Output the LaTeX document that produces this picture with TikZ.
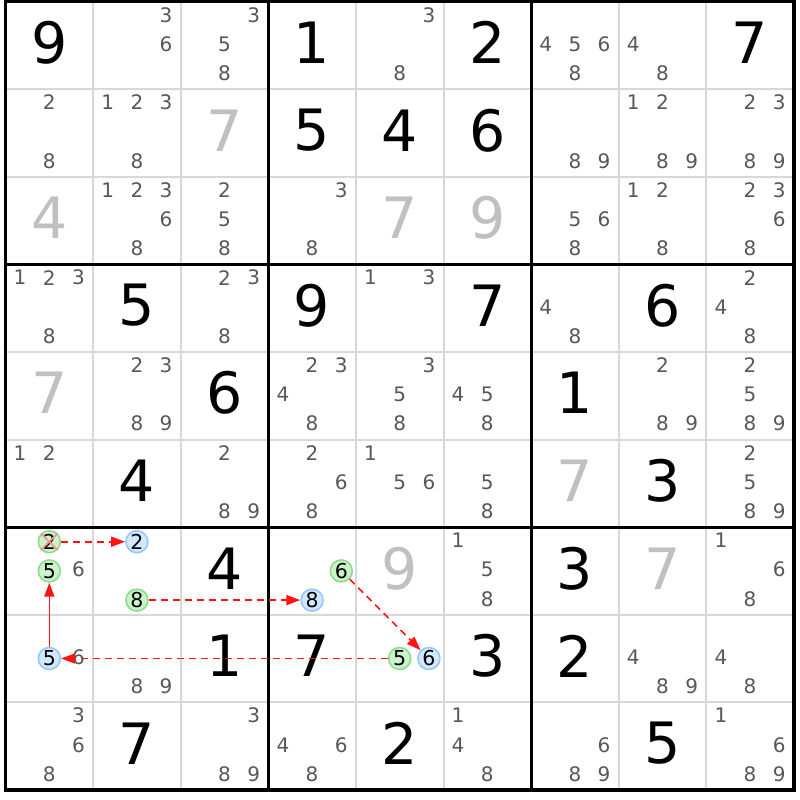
\documentclass[tikz,border=0pt]{standalone}
\usepackage{fontspec}
\setmainfont{DejaVu Sans}
\usetikzlibrary{arrows.meta}
\definecolor{candgrey}{RGB}{88,88,88}
\definecolor{solvedgrey}{RGB}{192,192,192}
\definecolor{thingrid}{RGB}{216,216,216}
\definecolor{gfill}{RGB}{204,242,204}
\definecolor{gline}{RGB}{140,220,140}
\definecolor{bfill}{RGB}{210,232,255}
\definecolor{bline}{RGB}{150,200,250}
\definecolor{linkred}{RGB}{255,20,20}
\tikzset{
  given/.style={font=\fontsize{57}{60}\selectfont, text=black, inner sep=0pt},
  solved/.style={font=\fontsize{57}{60}\selectfont, text=solvedgrey, inner sep=0pt},
  cand/.style={font=\fontsize{20}{24}\selectfont, text=candgrey, inner sep=0pt},
  ringg/.style={circle, draw=gline, fill=gfill, line width=1.6pt, minimum size=22pt, inner sep=0pt, font=\fontsize{20.5}{24}\selectfont, text=black},
  ringb/.style={circle, draw=bline, fill=bfill, line width=1.6pt, minimum size=22pt, inner sep=0pt, font=\fontsize{20.5}{24}\selectfont, text=black},
  thinline/.style={draw=thingrid, line width=2pt},
  boxline/.style={draw=black, line width=3pt},
  linkarrow/.style={draw=linkred, line width=1.6pt, -{Triangle[length=14pt,width=10pt]}},
  linkdash/.style={linkarrow, dash pattern=on 7pt off 5pt},
}
\newcommand\Cd[3]{%
  \foreach \d in {#3}{%
    \pgfmathtruncatemacro\mycc{mod(\d-1,3)}%
    \pgfmathtruncatemacro\myrr{floor((\d-1)/3)}%
    \node[cand] (c#1#2-\d) at ({5.5+#2*87.6+(\mycc+0.5)*29.2},{1.5+#1*87.6+(\myrr+0.5)*29.2-1.2}) {\d};
  }}
\newcommand\Ring[5]{%
  \pgfmathtruncatemacro\mycc{mod(#4-1,3)}%
  \pgfmathtruncatemacro\myrr{floor((#4-1)/3)}%
  \node[#5] (#1) at ({5.5+#3*87.6+(\mycc+0.5)*29.2},{1.5+#2*87.6+(\myrr+0.5)*29.2}) {#4};}
\begin{document}
\begin{tikzpicture}[x=1pt,y=-1pt]
\fill[white] (0,0) rectangle (800,800);
\useasboundingbox (0,0) rectangle (800,800);
% grid
\foreach \i in {1,2,4,5,7,8}{
  \draw[thinline] ({5.5+\i*87.6},1.5) -- ({5.5+\i*87.6},789.9);
  \draw[thinline] (5.5,{1.5+\i*87.6}) -- (793.9,{1.5+\i*87.6});
}
\foreach \i in {3,6}{
  \draw[boxline] ({5.5+\i*87.6},1.5) -- ({5.5+\i*87.6},789.9);
  \draw[boxline] (5.5,{1.5+\i*87.6}) -- (793.9,{1.5+\i*87.6});
}
\draw[draw=black, line width=3.5pt] (5.5,1.5) rectangle (793.9,789.9);
% givens
\foreach \r/\c/\v in {0/0/9,0/3/1,0/5/2,0/8/7,1/3/5,1/4/4,1/5/6,3/1/5,3/3/9,3/5/7,3/7/6,4/2/6,4/6/1,5/1/4,5/7/3,6/2/4,6/6/3,7/2/1,7/3/7,7/5/3,7/6/2,8/1/7,8/4/2,8/7/5}
  \node[given] (v\r\c) at ({5.5+(\c+0.5)*87.6},{1.5+(\r+0.5)*87.6-2.5}) {\v};
% solved
\foreach \r/\c/\v in {1/2/7,2/0/4,2/4/7,2/5/9,4/0/7,5/6/7,6/4/9,6/7/7}
  \node[solved] (s\r\c) at ({5.5+(\c+0.5)*87.6},{1.5+(\r+0.5)*87.6-2.5}) {\v};
% candidates
\Cd{0}{1}{3,6}
\Cd{0}{2}{3,5,8}
\Cd{0}{4}{3,8}
\Cd{0}{6}{4,5,6,8}
\Cd{0}{7}{4,8}
\Cd{1}{0}{2,8}
\Cd{1}{1}{1,2,3,8}
\Cd{1}{6}{8,9}
\Cd{1}{7}{1,2,8,9}
\Cd{1}{8}{2,3,8,9}
\Cd{2}{1}{1,2,3,6,8}
\Cd{2}{2}{2,5,8}
\Cd{2}{3}{3,8}
\Cd{2}{6}{5,6,8}
\Cd{2}{7}{1,2,8}
\Cd{2}{8}{2,3,6,8}
\Cd{3}{0}{1,2,3,8}
\Cd{3}{2}{2,3,8}
\Cd{3}{4}{1,3}
\Cd{3}{6}{4,8}
\Cd{3}{8}{2,4,8}
\Cd{4}{1}{2,3,8,9}
\Cd{4}{3}{2,3,4,8}
\Cd{4}{4}{3,5,8}
\Cd{4}{5}{4,5,8}
\Cd{4}{7}{2,8,9}
\Cd{4}{8}{2,5,8,9}
\Cd{5}{0}{1,2}
\Cd{5}{2}{2,8,9}
\Cd{5}{3}{2,6,8}
\Cd{5}{4}{1,5,6}
\Cd{5}{5}{5,8}
\Cd{5}{8}{2,5,8,9}
\Cd{6}{0}{6}
\Cd{6}{5}{1,5,8}
\Cd{6}{8}{1,6,8}
\Cd{7}{0}{6}
\Cd{7}{1}{8,9}
\Cd{7}{7}{4,8,9}
\Cd{7}{8}{4,8}
\Cd{8}{0}{3,6,8}
\Cd{8}{2}{3,8,9}
\Cd{8}{3}{4,6,8}
\Cd{8}{5}{1,4,8}
\Cd{8}{6}{6,8,9}
\Cd{8}{8}{1,6,8,9}
% highlighted candidates
\Ring{gA}{6}{0}{2}{ringg}
\Ring{gB}{6}{0}{5}{ringg}
\Ring{bA}{6}{1}{2}{ringb}
\Ring{gC}{6}{1}{8}{ringg}
\Ring{gD}{6}{3}{6}{ringg}
\Ring{bC}{6}{3}{8}{ringb}
\Ring{bB}{7}{0}{5}{ringb}
\Ring{gE}{7}{4}{5}{ringg}
\Ring{bD}{7}{4}{6}{ringb}
% elimination cross
\draw[draw=red!45, line width=1.6pt] (gA.north west) -- (gA.south east);
\draw[draw=red!45, line width=1.6pt] (gA.north east) -- (gA.south west);
% links
\draw[linkdash] (gA) -- (bA);
\draw[linkarrow] (bB) -- (gB);
\draw[linkdash] (gC) -- (bC);
\draw[linkdash] (gD) -- (bD);
\draw[linkdash] (gE) -- (bB);
\end{tikzpicture}
\end{document}
